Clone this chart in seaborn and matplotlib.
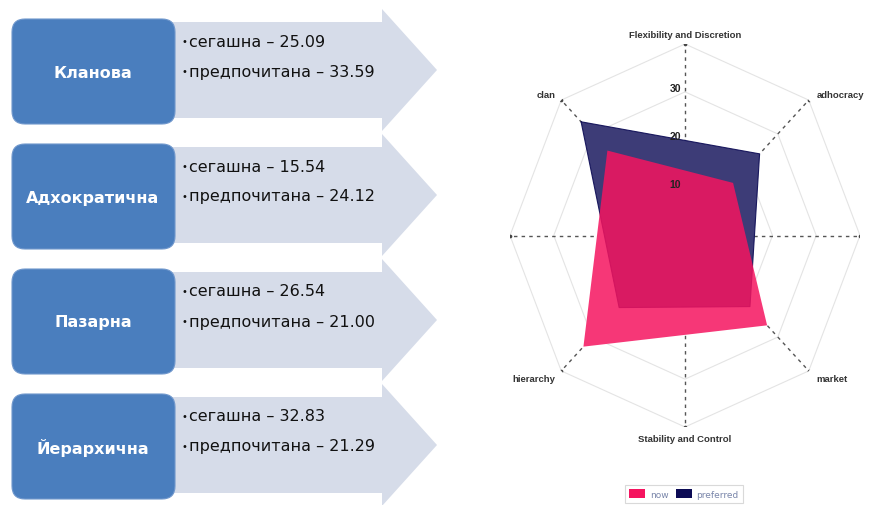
import numpy as np
import matplotlib
matplotlib.use("Agg")
import matplotlib.pyplot as plt
from matplotlib.patches import FancyBboxPatch, Polygon, Patch
import seaborn as sns

# data
culture_bg = ["Кланова", "Адхократична", "Пазарна", "Йерархична"]
culture_en = ["clan", "adhocracy", "market", "hierarchy"]
now_vals = [25.09, 15.54, 26.54, 32.83]
preferred_vals = [33.59, 24.12, 21.00, 21.29]
label_now_bg = "сегашна"
label_pref_bg = "предпочитана"

# radar axes (clockwise from the top)
axis_names = ["Flexibility and Discretion", "adhocracy", "", "market",
              "Stability and Control", "hierarchy", "", "clan"]
axis_angles_deg = [0, 45, 90, 135, 180, 225, 270, 315]
culture_angles_deg = [315, 45, 135, 225]
rings = [10, 20, 30, 40]
tick_labels = [10, 20, 30]
r_max = 40

now_color = "#f5145f"
pref_color = "#0c0b55"
box_color = "#4a7ebe"
arrow_color = "#d6dce9"

sns.set_theme(style="white")
plt.rcParams["font.family"] = ["DejaVu Sans"]

fig = plt.figure(figsize=(8.78, 5.06), dpi=100)
fig.patch.set_facecolor("white")

# ---- left side: boxes with arrows ----
ax0 = fig.add_axes([0, 0, 1, 1])
ax0.set_xlim(0, 878)
ax0.set_ylim(506, 0)
ax0.axis("off")

row_step = 125
for i, name in enumerate(culture_bg):
    top = 20 + row_step * i
    cy = top + 51
    arrow = Polygon([(100, cy - 48), (382, cy - 48), (382, cy - 61), (437, cy),
                     (382, cy + 61), (382, cy + 48), (100, cy + 48)],
                    closed=True, facecolor=arrow_color, edgecolor="none", zorder=1)
    ax0.add_patch(arrow)
    box = FancyBboxPatch((12, top), 163, 105, boxstyle="round,pad=0,rounding_size=13",
                         facecolor=box_color, edgecolor="#6f97cc", linewidth=0.8, zorder=2)
    ax0.add_patch(box)
    ax0.text(93, top + 53, name, color="white", fontsize=11.5, fontweight="bold",
             ha="center", va="center", zorder=3)
    lines = [(label_now_bg, now_vals[i], top + 22), (label_pref_bg, preferred_vals[i], top + 52)]
    for lab, val, y in lines:
        ax0.text(182, y, "•", fontsize=7, ha="left", va="center", color="#111", zorder=3)
        ax0.text(189, y, f"{lab} – {val:.2f}", fontsize=11.5, ha="left", va="center",
                 color="#111", zorder=3)

# ---- right side: radar ----
ax = fig.add_axes([510 / 878, 78 / 506, 350 / 878, 383 / 506], projection="polar")
ax.set_aspect("auto")
ax.set_theta_zero_location("N")
ax.set_theta_direction(-1)
ax.set_ylim(0, r_max)
ax.set_xticks([])
ax.set_yticks([])
ax.grid(False)
ax.spines["polar"].set_visible(False)
ax.set_facecolor("none")

axis_th = np.deg2rad(axis_angles_deg)
ring_th = np.append(axis_th, axis_th[0])
for r in rings:
    ax.plot(ring_th, [r] * len(ring_th), color="#e4e4e4", lw=0.8, zorder=1)
for th in axis_th:
    ax.plot([th, th], [0, r_max], color="#555555", lw=1.0, ls=(0, (2.5, 3)), zorder=2)
sns.scatterplot(x=axis_th, y=[r_max] * len(axis_th), ax=ax, color="#444444", s=7,
                linewidth=0, zorder=3)

cult_th = np.deg2rad(culture_angles_deg)
poly_th = np.append(cult_th, cult_th[0])
pref_closed = preferred_vals + preferred_vals[:1]
now_closed = now_vals + now_vals[:1]
# white underlay so grid and axes do not show through the areas
ax.fill(poly_th, pref_closed, color="white", lw=0, zorder=3.5)
ax.fill(poly_th, now_closed, color="white", lw=0, zorder=3.5)
ax.fill(poly_th, pref_closed, color=pref_color, alpha=0.8, lw=0, zorder=4)
ax.plot(poly_th, pref_closed, color=pref_color, lw=0.8, alpha=0.9, zorder=4)
ax.fill(poly_th, now_closed, color=now_color, alpha=0.85, lw=0, zorder=5)

for t in tick_labels:
    ax.annotate(str(t), xy=(0, t), xytext=(-4, 4), textcoords="offset pixels",
                ha="right", va="center", fontsize=7.5, fontweight="bold",
                color="#222222", family="Liberation Sans", zorder=6)

label_offsets = {
    0: ((0, 9), "center"), 45: ((8, 6), "left"), 135: ((8, -8), "left"),
    180: ((0, -12), "center"), 225: ((-6, -8), "right"), 315: ((-6, 6), "right"),
}
for name, deg in zip(axis_names, axis_angles_deg):
    if not name:
        continue
    off, ha = label_offsets[deg]
    ax.annotate(name, xy=(np.deg2rad(deg), r_max), xytext=off, textcoords="offset pixels",
                ha=ha, va="center", fontsize=6.8, fontweight="bold", color="#333333",
                family="Liberation Sans", annotation_clip=False, zorder=6)

handles = [Patch(facecolor=now_color, edgecolor="none"),
           Patch(facecolor=pref_color, edgecolor="none")]
leg = fig.legend(handles, ["now", "preferred"], loc="center", ncol=2,
                 bbox_to_anchor=(684 / 878, 1 - 495 / 506), fontsize=6.5,
                 handlelength=1.8, handleheight=1.0, handletextpad=0.5,
                 columnspacing=0.8, frameon=True, fancybox=False, edgecolor="#d0d0d0",
                 labelcolor="#7a86aa", borderpad=0.5)
leg.get_frame().set_linewidth(0.8)

fig.savefig("out.png", dpi=100)
